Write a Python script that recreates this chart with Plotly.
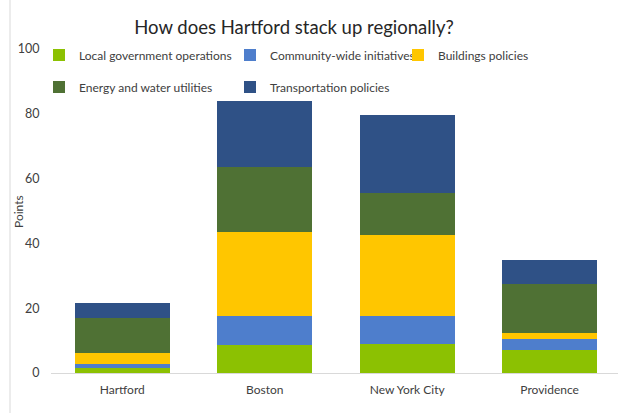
import plotly.graph_objects as go

cities = ["Hartford", "Boston", "New York City", "Providence"]
series_names = ["Local government operations", "Community-wide initiatives",
                "Buildings policies", "Energy and water utilities",
                "Transportation policies"]
local_gov = [1.5, 8.5, 9.0, 7.0]
community = [1.25, 9.0, 8.5, 3.5]
buildings = [3.5, 26.0, 25.0, 2.0]
energy = [10.75, 20.0, 13.0, 15.0]
transport = [4.5, 20.5, 24.0, 7.5]
y_ticks = [0, 20, 40, 60, 80, 100]

values = [local_gov, community, buildings, energy, transport]
colors = ["#8CC102", "#4E7ECC", "#FFC600", "#4F7134", "#2F5186"]
legend_ids = ["legend", "legend2", "legend3", "legend4", "legend5"]
# legend anchor positions in pixels (x of box left, y of row center)
legend_pos = [(39, 55), (230, 55), (398, 55), (39, 87), (230, 87)]

W, H = 618, 413
ML, MR, MT, MB = 51, 0, 49, 40
PW, PH = W - ML - MR, H - MT - MB
FONT = "Lato"
TXT = "#404040"

fig = go.Figure()
for name, vals, col, lid in zip(series_names, values, colors, legend_ids):
    fig.add_trace(go.Bar(x=cities, y=vals, name=name, marker_color=col,
                         marker_line_width=0, legend=lid))

layout_legends = {}
for lid, (px, py) in zip(legend_ids, legend_pos):
    layout_legends[lid] = dict(
        x=px / W, y=1 - py / H, xref="container", yref="container",
        xanchor="left", yanchor="middle", bgcolor="rgba(0,0,0,0)",
        font=dict(family=FONT, size=12, color=TXT), borderwidth=0)

fig.update_layout(
    width=W, height=H,
    margin=dict(l=ML, r=MR, t=MT, b=MB, autoexpand=False),
    paper_bgcolor="white", plot_bgcolor="white",
    barmode="stack", bargap=0.333,
    font=dict(family=FONT, color=TXT),
    title=dict(text="How does Hartford stack up regionally?",
               x=294 / W, xref="container", xanchor="center",
               y=1 - 28 / H, yref="container", yanchor="middle",
               font=dict(family=FONT, size=18.5, color="#262626")),
    xaxis=dict(range=[-0.5, 3.48], showgrid=False, showline=True,
               linecolor="#D9D9D9", linewidth=1, ticks="outside",
               ticklen=6, tickcolor="rgba(0,0,0,0)", automargin=False,
               tickfont=dict(family=FONT, size=12, color=TXT)),
    yaxis=dict(range=[0, 100], tickvals=y_ticks, showgrid=False,
               showline=False, zeroline=False, ticks="outside",
               ticklen=8, tickcolor="rgba(0,0,0,0)", automargin=False,
               tickfont=dict(family=FONT, size=12.5, color=TXT)),
    showlegend=True,
    annotations=[dict(text="Points", textangle=-90, xref="paper",
                      yref="paper", x=(18 - ML) / PW, y=(H - MB - 212) / PH,
                      xanchor="center", yanchor="middle", showarrow=False,
                      font=dict(family=FONT, size=12, color=TXT))],
    **layout_legends,
)

# chart-area border line on the left edge
fig.add_shape(type="line", xref="paper", yref="paper",
              x0=(10 - ML) / PW, x1=(10 - ML) / PW,
              y0=-MB / PH, y1=(H - MB) / PH,
              line=dict(color="#D9D9D9", width=1))

fig.write_html("out.html", config={"displayModeBar": False},
               post_script="document.body.style.margin='0';"
                           "document.body.style.overflow='hidden';")
